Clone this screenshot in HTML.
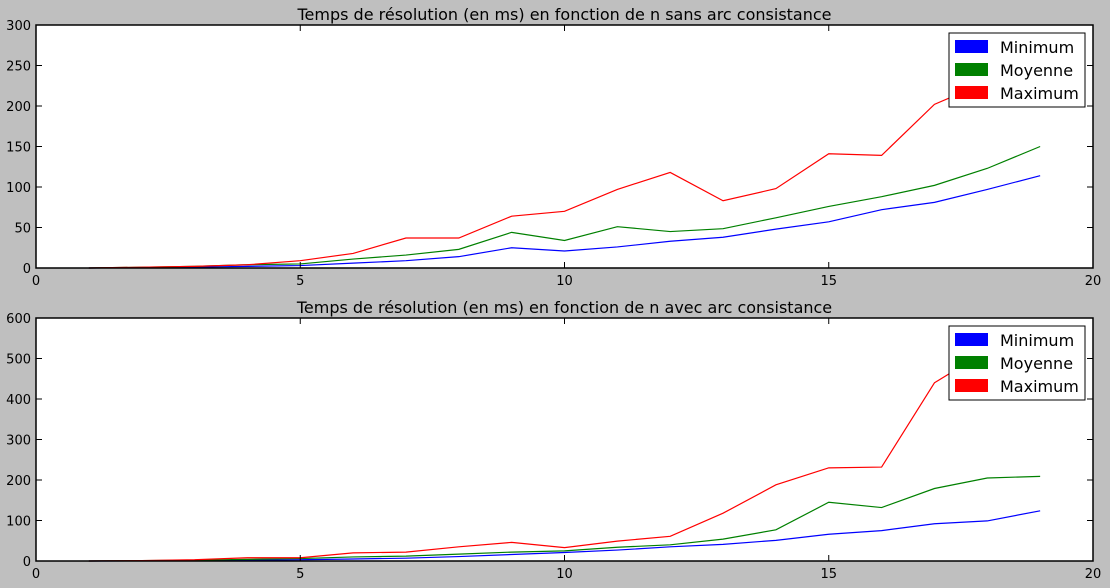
<!DOCTYPE html>
<html><head><meta charset="utf-8"><style>
html,body{margin:0;padding:0;background:#bfbfbf;}
svg{display:block;font-family:"DejaVu Sans","Liberation Sans",sans-serif;}
</style></head><body>
<svg id="chart" width="1110" height="588"></svg>
<script>
const nValues = [1,2,3,4,5,6,7,8,9,10,11,12,13,14,15,16,17,18,19];
const topMin = [0,0.5,1,2,3,6,9,14,25,21,26,33,38,48,57,72,81,97,114];
const topMoy = [0,1,2,4,5,11,16,23,44,34,51,45,48.5,62,76,88,102,123,150];
const topMax = [0,1,2,4,9,18,37,37,64,70,97,118,83,98,141,139,202,230,270];
const botMin = [0,0.5,1,2,3,5,7,11,16,21,27,35,41,51,66,75,92,99,124];
const botMoy = [0,1,2,4,6,10,12,17,22,25,34,40,54,77,145,132,179,205,209];
const botMax = [0,1,3,8,8,20,22,35,46,33,49,61,118,188,230,232,440,520,560];
const xTicks = [0,5,10,15,20];
const topYTicks = [0,50,100,150,200,250,300];
const botYTicks = [0,100,200,300,400,500,600];
const legendLabels = ["Minimum","Moyenne","Maximum"];
const colors = ["#0000ff","#008000","#ff0000"];

const NS="http://www.w3.org/2000/svg";
const svg=document.getElementById('chart');
function mk(tag,attrs,parent){const e=document.createElementNS(NS,tag);for(const k in attrs)e.setAttribute(k,attrs[k]);(parent||svg).appendChild(e);return e;}

function panel(prefix,top,bottom,yMax,yTicks,series,title){
  const L=36,R=1093;
  const g=mk('g',{});
  
  
  const xs=v=>L+(v-0)/(20-0)*(R-L);
  const ys=v=>bottom-v/yMax*(bottom-top);
  const bg=mk('rect',{x:L,y:top,width:R-L,height:bottom-top,fill:'#fff'},g);
  
  
  series.forEach((s,i)=>{
    const p=mk('polyline',{points:nValues.map((n,j)=>xs(n)+','+ys(s[j])).join(' '),fill:'none',stroke:colors[i],'stroke-width':1.2},g);
    
    
  });
  const fr=mk('rect',{x:L,y:top,width:R-L,height:bottom-top,fill:'none',stroke:'#000','stroke-width':1.5},g);
  
  
  xTicks.forEach(t=>{
    const x=xs(t);
    mk('line',{x1:x,x2:x,y1:bottom,y2:bottom-6,stroke:'#000'},g);
    mk('line',{x1:x,x2:x,y1:top,y2:top+6,stroke:'#000'},g);
    const tx=mk('text',{x:x,y:bottom+17,'text-anchor':'middle','font-size':13},g);
    tx.textContent=t;
    
    
  });
  yTicks.forEach(t=>{
    const y=ys(t);
    mk('line',{x1:L,x2:L+6,y1:y,y2:y,stroke:'#000'},g);
    mk('line',{x1:R,x2:R-6,y1:y,y2:y,stroke:'#000'},g);
    const tx=mk('text',{x:L-5,y:y+5,'text-anchor':'end','font-size':13},g);
    tx.textContent=t;
    
    
  });
  const ti=mk('text',{x:(L+R)/2,y:top-5,'text-anchor':'middle','font-size':16},g);
  ti.textContent=title;
  
  
  const lg=mk('g',{},g);
  
  
  mk('rect',{x:949,y:top+8,width:136,height:74,fill:'#fff',stroke:'#000','stroke-width':1},lg);
  legendLabels.forEach((lab,i)=>{
    const yy=top+15+i*23;
    const sw=mk('rect',{x:955,y:yy,width:33,height:13,fill:colors[i]},lg);
    
    
    const t=mk('text',{x:1000,y:yy+13,'font-size':16},lg);
    t.textContent=lab;
    
    
  });
}
panel('top',25,268,300,topYTicks,[topMin,topMoy,topMax],'Temps de résolution (en ms) en fonction de n sans arc consistance');
panel('bottom',318,561,600,botYTicks,[botMin,botMoy,botMax],'Temps de résolution (en ms) en fonction de n avec arc consistance');
</script>
</body></html>
